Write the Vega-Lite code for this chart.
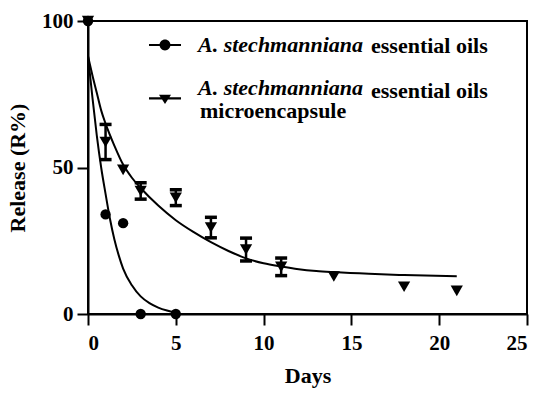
{
  "$schema": "https://vega.github.io/schema/vega-lite/v6.json",
  "width": 439,
  "height": 293,
  "autosize": {"type": "none"},
  "padding": {"left": 88, "top": 21, "right": 23, "bottom": 80},
  "background": "white",
  "config": {
    "view": {"stroke": "black", "strokeWidth": 2},
    "font": "Liberation Serif",
    "tick": {"opacity": 1},
    "axis": {
      "domainColor": "black", "domainWidth": 2,
      "tickColor": "black", "tickWidth": 2, "tickSize": 11,
      "labelFont": "Liberation Serif", "labelFontWeight": "bold", "labelFontSize": 21, "labelColor": "black", "labelPadding": 4,
      "titleFont": "Liberation Serif", "titleFontWeight": "bold", "titleFontSize": 22, "titleColor": "black",
      "grid": false
    },
    "axisX": {"labelPadding": 7},
    "legend": {
      "orient": "none", "title": null, "padding": 0,
      "labelFont": "Liberation Serif", "labelFontSize": 22, "labelFontWeight": "bold", "labelColor": "black",
      "labelLimit": 600, "symbolSize": 1024, "labelOffset": 17, "rowPadding": 12
    }
  },
  "datasets": {
    "pts": [
      {"s": "oil", "d": 0, "r": 100},
      {"s": "oil", "d": 1, "r": 34},
      {"s": "oil", "d": 2, "r": 31},
      {"s": "oil", "d": 3, "r": 0},
      {"s": "oil", "d": 5, "r": 0},
      {"s": "micro", "d": 0, "r": 100},
      {"s": "micro", "d": 1, "r": 58.7, "e": 6},
      {"s": "micro", "d": 2, "r": 49.2},
      {"s": "micro", "d": 3, "r": 42, "e": 2.8},
      {"s": "micro", "d": 5, "r": 39.7, "e": 2.7},
      {"s": "micro", "d": 7, "r": 29.5, "e": 3.5},
      {"s": "micro", "d": 9, "r": 22, "e": 3.9},
      {"s": "micro", "d": 11, "r": 16.1, "e": 3},
      {"s": "micro", "d": 14, "r": 12.8},
      {"s": "micro", "d": 18, "r": 9.3},
      {"s": "micro", "d": 21, "r": 7.9}
    ],
    "fit": [
      {"s": "oil", "d": 0, "r": 88},
      {"s": "oil", "d": 0.25, "r": 74},
      {"s": "oil", "d": 0.5, "r": 61},
      {"s": "oil", "d": 0.75, "r": 50},
      {"s": "oil", "d": 1, "r": 41},
      {"s": "oil", "d": 1.25, "r": 32.5},
      {"s": "oil", "d": 1.5, "r": 25.5},
      {"s": "oil", "d": 1.75, "r": 20},
      {"s": "oil", "d": 2, "r": 15.5},
      {"s": "oil", "d": 2.5, "r": 9.8},
      {"s": "oil", "d": 3, "r": 6},
      {"s": "oil", "d": 3.5, "r": 3.7},
      {"s": "oil", "d": 4, "r": 2.2},
      {"s": "oil", "d": 4.5, "r": 1.2},
      {"s": "oil", "d": 5, "r": 0.5},
      {"s": "micro", "d": 0, "r": 88},
      {"s": "micro", "d": 0.25, "r": 81.5},
      {"s": "micro", "d": 0.5, "r": 75.5},
      {"s": "micro", "d": 0.75, "r": 69.5},
      {"s": "micro", "d": 1, "r": 65},
      {"s": "micro", "d": 1.5, "r": 57.5},
      {"s": "micro", "d": 2, "r": 51},
      {"s": "micro", "d": 2.5, "r": 46.5},
      {"s": "micro", "d": 3, "r": 43},
      {"s": "micro", "d": 4, "r": 37},
      {"s": "micro", "d": 5, "r": 32},
      {"s": "micro", "d": 6, "r": 28},
      {"s": "micro", "d": 7, "r": 24.5},
      {"s": "micro", "d": 8, "r": 21.5},
      {"s": "micro", "d": 9, "r": 19},
      {"s": "micro", "d": 10, "r": 17.3},
      {"s": "micro", "d": 11, "r": 16.2},
      {"s": "micro", "d": 12, "r": 15.3},
      {"s": "micro", "d": 13, "r": 14.7},
      {"s": "micro", "d": 14, "r": 14.3},
      {"s": "micro", "d": 16, "r": 13.7},
      {"s": "micro", "d": 18, "r": 13.3},
      {"s": "micro", "d": 21, "r": 12.9}
    ]
  },
  "layer": [
    {
      "data": {"name": "fit"},
      "mark": {"type": "line", "interpolate": "monotone", "color": "black", "strokeWidth": 2, "clip": false},
      "encoding": {
        "x": {"field": "d", "type": "quantitative", "title": "Days", "scale": {"domain": [0, 25], "nice": false},
              "axis": {"values": [0, 5, 10, 15, 20, 25], "title": "Days", "titlePadding": 12}},
        "y": {"field": "r", "type": "quantitative", "title": "Release (R%)", "scale": {"domain": [0, 100], "nice": false},
              "axis": {"values": [0, 50, 100], "title": "Release (R%)", "titlePadding": 12}},
        "detail": {"field": "s"}
      }
    },
    {
      "data": {"name": "pts"},
      "transform": [{"filter": "isValid(datum.e)"}],
      "mark": {"type": "errorbar", "color": "black", "ticks": {"size": 12, "thickness": 3.5, "color": "black", "opacity": 1}, "rule": {"strokeWidth": 2.5, "color": "black", "opacity": 1}},
      "encoding": {
        "x": {"field": "d", "type": "quantitative", "title": "Days"},
        "y": {"field": "r", "type": "quantitative", "title": "Release (R%)"},
        "yError": {"field": "e"}
      }
    },
    {
      "data": {"name": "pts"},
      "transform": [{"filter": "datum.s == 'oil'"}],
      "mark": {"type": "point", "shape": "circle", "filled": true, "size": 107, "color": "black", "opacity": 1, "clip": false},
      "encoding": {
        "x": {"field": "d", "type": "quantitative", "title": "Days"},
        "y": {"field": "r", "type": "quantitative", "title": "Release (R%)"}
      }
    },
    {
      "data": {"name": "pts"},
      "transform": [{"filter": "datum.s == 'micro'"}],
      "mark": {"type": "point", "shape": "triangle-down", "filled": true, "size": 150, "color": "black", "opacity": 1, "clip": false},
      "encoding": {
        "x": {"field": "d", "type": "quantitative", "title": "Days"},
        "y": {"field": "r", "type": "quantitative", "title": "Release (R%)"}
      }
    },
    {
      "data": {"name": "pts"},
      "transform": [{"filter": "false"}],
      "mark": {"type": "point", "filled": true, "color": "black", "opacity": 1},
      "encoding": {
        "x": {"field": "d", "type": "quantitative", "title": "Days"},
        "y": {"field": "r", "type": "quantitative", "title": "Release (R%)"},
        "shape": {
          "field": "s", "type": "nominal",
          "scale": {"domain": ["oil", "micro"], "range": ["M-1,-0.07L1,-0.07L1,0.07L-1,0.07ZM0.34,0A0.34,0.34,0,1,1,-0.34,0A0.34,0.34,0,1,1,0.34,0Z", "M-1,0.58L1,0.58L1,0.72L-1,0.72ZM-0.375,0.42L0.375,0.42L0,1Z"]},
          "legend": {
            "legendX": 61, "legendY": 8,
            "rowPadding": 16,
            "labelFontStyle": "italic",
            "symbolFillColor": "black", "symbolStrokeColor": "black", "symbolStrokeWidth": 0, "symbolOpacity": 1,
            "labelExpr": "'A. stechmanniana'",
            "encoding": {
              "symbols": {"update": {"fill": {"value": "black"}, "opacity": {"value": 1}}}
            }
          }
        }
      }
    },
    {
      "data": {"name": "pts"},
      "transform": [{"filter": "false"}],
      "mark": {"type": "point", "filled": true},
      "encoding": {
        "x": {"field": "d", "type": "quantitative", "title": "Days"},
        "y": {"field": "r", "type": "quantitative", "title": "Release (R%)"},
        "color": {
          "field": "s", "type": "nominal",
          "scale": {"domain": ["micro", "oil"], "range": ["black", "black"]},
          "legend": {
            "legendX": 232, "legendY": 8,
            "symbolOpacity": 0,
            "labelExpr": "'essential oils'",
            "encoding": {
              "symbols": {"update": {"opacity": {"value": 0}}}
            }
          }
        }
      }
    },
    {
      "data": {"name": "pts"},
      "transform": [{"filter": "false"}],
      "mark": {"type": "point", "filled": true},
      "encoding": {
        "x": {"field": "d", "type": "quantitative", "title": "Days"},
        "y": {"field": "r", "type": "quantitative", "title": "Release (R%)"},
        "fill": {
          "field": "s", "type": "nominal",
          "scale": {"domain": ["micro"], "range": ["black"]},
          "legend": {
            "legendX": 61, "legendY": 73,
            "symbolOpacity": 0,
            "labelExpr": "'microencapsule'",
            "encoding": {
              "symbols": {"update": {"opacity": {"value": 0}}}
            }
          }
        }
      }
    }
  ]
}
